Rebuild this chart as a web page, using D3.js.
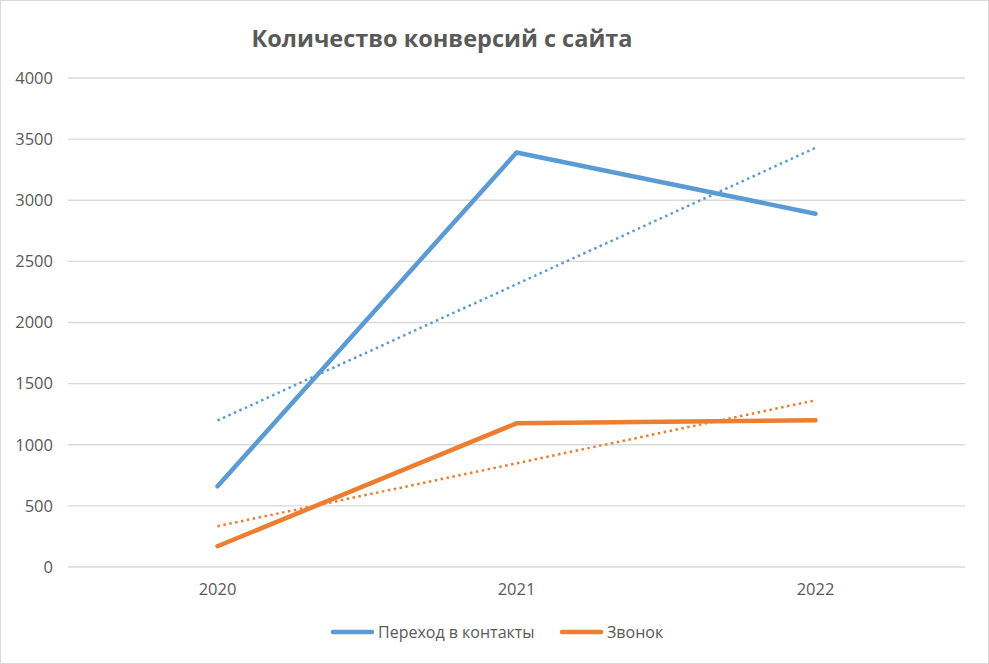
<!DOCTYPE html>
<html lang="ru">
<head>
  <meta charset="UTF-8">
  <title>Количество конверсий с сайта</title>
  <script src="https://d3js.org/d3.v7.min.js"></script>
  <style>
    html, body {
      margin: 0;
      padding: 0;
      background: #fff;
    }
    text {
      font-family: "Open Sans", "Noto Sans", sans-serif;
      fill: #595959;
    }
    .grid line {
      stroke: #d9d9d9;
      stroke-width: 1.3px;
    }
    .line {
      fill: none;
      stroke-width: 4.5px;
      stroke-linecap: round;
      stroke-linejoin: round;
    }
    .trend {
      fill: none;
      stroke-width: 2.5px;
      stroke-dasharray: 2.5 3.5;
    }
  </style>
</head>
<body>
  <div id="container"></div>
  <script>
    const width = 989;
    const height = 664;

    // data
    const years = ['2020', '2021', '2022'];
    const contacts = [660, 3390, 2890];
    const calls = [170, 1175, 1200];
    const yTicks = [0, 500, 1000, 1500, 2000, 2500, 3000, 3500, 4000];

    const seriesNames = ['Переход в контакты', 'Звонок'];
    const seriesColors = ['#5b9bd5', '#ed7d31'];
    const series = [contacts, calls];

    const margin = {top: 78, right: 24, bottom: 97, left: 68};

    const svg = d3.select('#container').append('svg')
      .attr('width', width).attr('height', height);

    // chart border
    svg.append('rect')
      .attr('x', 0.5).attr('y', 0.5)
      .attr('width', width - 1).attr('height', height - 1)
      .attr('fill', '#fff').attr('stroke', '#d9d9d9');

    const xScale = d3.scaleBand().domain(years)
      .range([margin.left, width - margin.right]);
    const yScale = d3.scaleLinear().domain([0, 4000])
      .range([height - margin.bottom, margin.top]);

    const xc = d => xScale(d) + xScale.bandwidth() / 2;

    // gridlines
    svg.append('g').attr('class', 'grid')
      .selectAll('line').data(yTicks).enter().append('line')
      .attr('x1', margin.left).attr('x2', width - margin.right)
      .attr('y1', d => yScale(d)).attr('y2', d => yScale(d));

    // y axis labels
    const yAxis = d3.axisLeft(yScale).tickValues(yTicks).tickFormat(d3.format('d'))
      .tickSize(0).tickPadding(15);
    const yg = svg.append('g')
      .attr('transform', `translate(${margin.left},0)`)
      .call(yAxis);
    yg.select('.domain').remove();
    yg.selectAll('text').style('font-size', '16.5px').attr('fill', '#595959');

    // x axis labels
    const xAxis = d3.axisBottom(xScale).tickSize(0).tickPadding(16);
    const xg = svg.append('g')
      .attr('transform', `translate(0,${height - margin.bottom})`)
      .call(xAxis);
    xg.select('.domain').remove();
    xg.selectAll('text').style('font-size', '16.5px').attr('fill', '#595959');

    // linear trendlines (least squares over the category index)
    function trend(values) {
      const xs = values.map((d, i) => i + 1);
      const mx = d3.mean(xs), my = d3.mean(values);
      const slope = d3.sum(xs, (x, i) => (x - mx) * (values[i] - my)) / d3.sum(xs, x => (x - mx) ** 2);
      return xs.map(x => my + slope * (x - mx));
    }

    const line = d3.line()
      .x((d, i) => xc(years[i]))
      .y(d => yScale(d));

    svg.selectAll('.trend').data(series).enter().append('path')
      .attr('class', 'trend')
      .attr('d', d => line(trend(d)))
      .attr('stroke', (d, i) => seriesColors[i]);

    svg.selectAll('.line').data(series).enter().append('path')
      .attr('class', 'line')
      .attr('d', line)
      .attr('stroke', (d, i) => seriesColors[i]);

    // title
    svg.append('text')
      .attr('x', 442).attr('y', 47)
      .attr('text-anchor', 'middle')
      .style('font-size', '23.5px')
      .style('font-weight', 'bold')
      .text('Количество конверсий с сайта');

    // legend
    const legendX = [333, 562];
    const legend = svg.selectAll('.legend').data(seriesNames).enter().append('g')
      .attr('class', 'legend')
      .attr('transform', (d, i) => `translate(${legendX[i]},632)`);
    legend.append('line')
      .attr('x1', 0).attr('x2', 39)
      .attr('stroke', (d, i) => seriesColors[i])
      .attr('stroke-width', 4.5)
      .attr('stroke-linecap', 'round');
    legend.append('text')
      .attr('x', 45).attr('y', 5.5)
      .style('font-size', '16px')
      .text(d => d);
  </script>
</body>
</html>
